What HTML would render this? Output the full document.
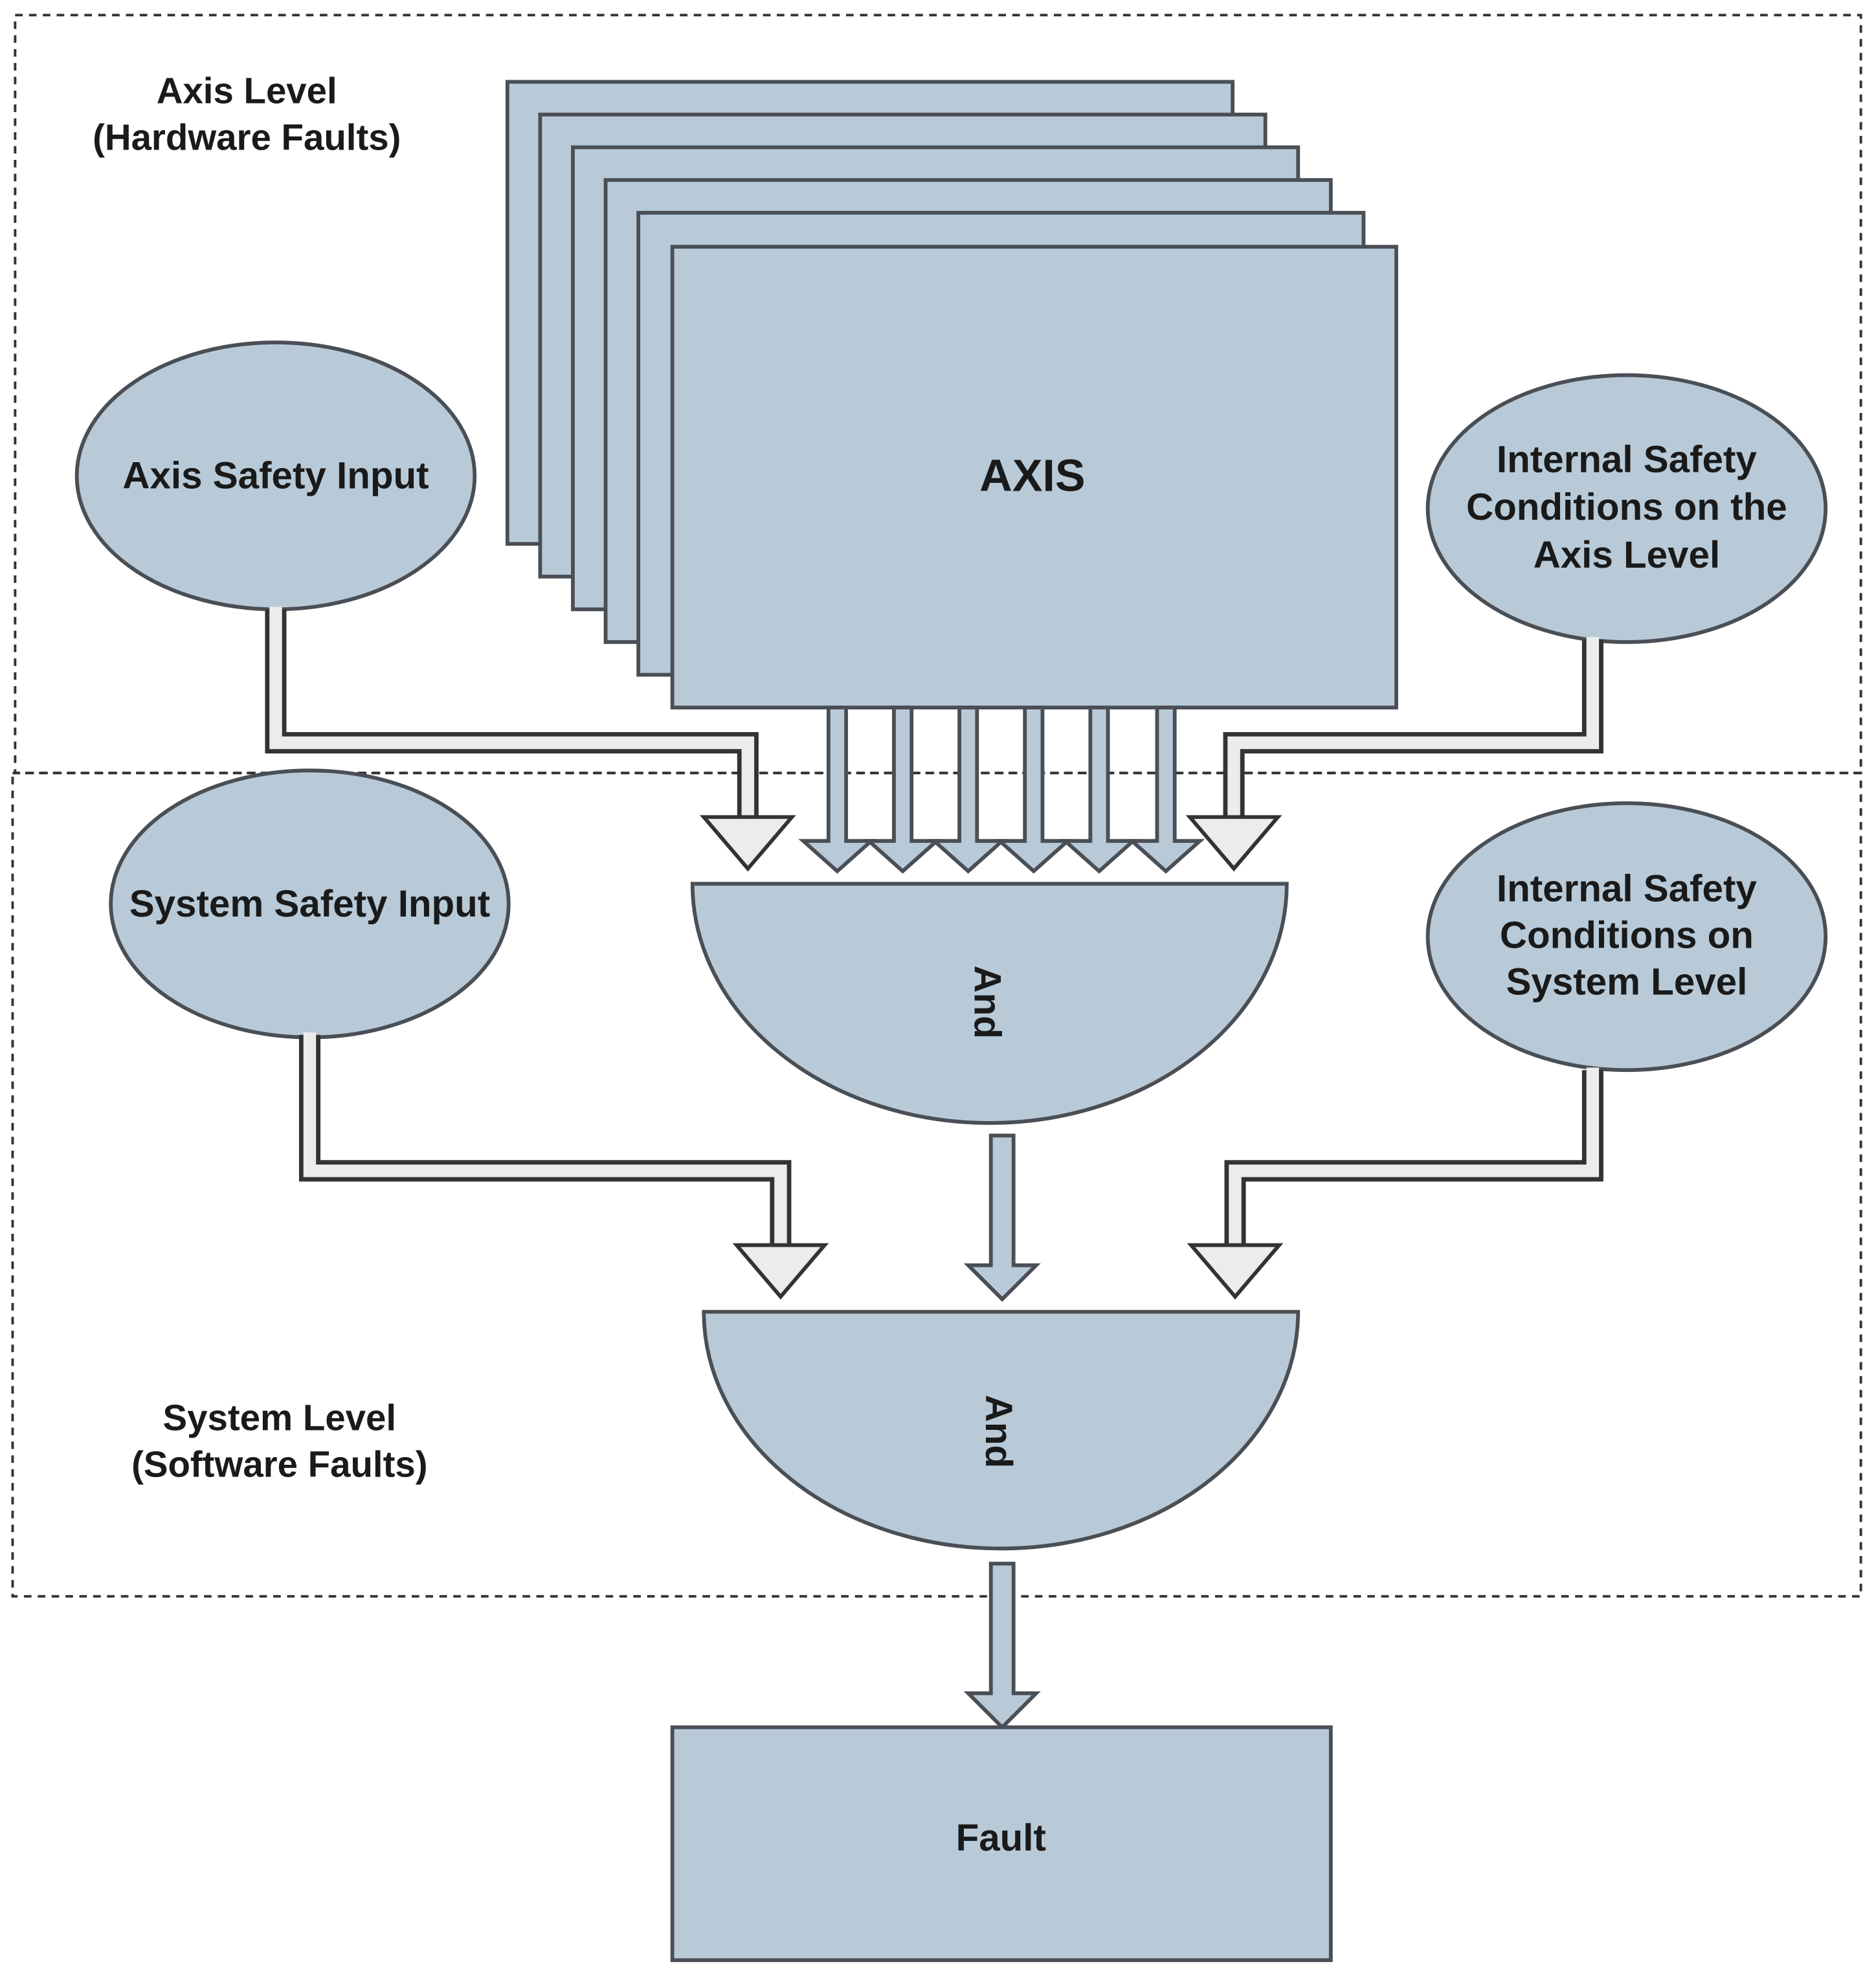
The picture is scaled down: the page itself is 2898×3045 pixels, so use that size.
<!DOCTYPE html>
<html><head><meta charset="utf-8"><style>
html,body{margin:0;padding:0;background:#fff;}
svg{display:block;}
text{font-family:"Liberation Sans Narrow","Liberation Sans",sans-serif;font-weight:bold;fill:#1a1a1a;text-anchor:middle;}
</style></head><body>
<svg width="2898" height="3045" viewBox="0 0 1490 1565.6" xmlns="http://www.w3.org/2000/svg">
<rect x="0" y="0" width="1490" height="1566" fill="#fff"/>
<!-- dashed boxes -->
<g fill="none" stroke="#333" stroke-width="2" stroke-dasharray="6,5">
<rect x="12" y="12" width="1466" height="602"/>
<path d="M10 614 H1478 V1268 H10 Z"/>
</g>
<text x="196" y="82" font-size="29">Axis Level</text>
<text x="196" y="119" font-size="29">(Hardware Faults)</text>
<text x="222" y="1136" font-size="29">System Level</text>
<text x="222" y="1173" font-size="29">(Software Faults)</text>
<!-- stacked axis rects -->
<g fill="#b8cad8" stroke="#4a4f55" stroke-width="3">
<rect x="403" y="65" width="576" height="367"/>
<rect x="429" y="91" width="576" height="367"/>
<rect x="455" y="117" width="576" height="367"/>
<rect x="481" y="143" width="576" height="367"/>
<rect x="507" y="169" width="576" height="367"/>
<rect x="534" y="196" width="575" height="366"/>
</g>
<text x="820" y="390" font-size="36">AXIS</text>
<!-- ellipses -->
<g fill="#b8cad8" stroke="#4a4f55" stroke-width="3">
<ellipse cx="219" cy="378" rx="158" ry="106"/>
<ellipse cx="1292" cy="404" rx="158" ry="106"/>
<ellipse cx="246" cy="718" rx="158" ry="106"/>
<ellipse cx="1292" cy="744" rx="158" ry="106"/>
</g>
<text x="219" y="388" font-size="30">Axis Safety Input</text>
<text x="1292" y="375" font-size="30">Internal Safety</text>
<text x="1292" y="413" font-size="30">Conditions on the</text>
<text x="1292" y="451" font-size="30">Axis Level</text>
<text x="246" y="728" font-size="30">System Safety Input</text>
<text x="1292" y="716" font-size="30">Internal Safety</text>
<text x="1292" y="753" font-size="30">Conditions on</text>
<text x="1292" y="790" font-size="30">System Level</text>
<!-- hollow connectors -->
<g fill="none" stroke-linejoin="miter">
<g stroke="#333" stroke-width="17">
<polyline points="219,484 219,590 594,590 594,652"/>
<polyline points="1265,508 1265,590 980,590 980,652"/>
<polyline points="246,822 246,930 620,930 620,992"/>
<polyline points="1265,850 1265,930 981,930 981,992"/>
</g>
<g stroke="#ececec" stroke-width="10">
<polyline points="219,482 219,590 594,590 594,656"/>
<polyline points="1265,506 1265,590 980,590 980,656"/>
<polyline points="246,820 246,930 620,930 620,996"/>
<polyline points="1265,848 1265,930 981,930 981,996"/>
</g>
</g>
<g fill="#ececec" stroke="#333" stroke-width="3" stroke-linejoin="miter">
<polygon points="559,649 629,649 594,690"/>
<polygon points="945,649 1015,649 980,690"/>
<polygon points="585,989 655,989 620,1030"/>
<polygon points="946,989 1016,989 981,1030"/>
</g>
<!-- blue arrows from AXIS -->
<g fill="#b8cad8" stroke="#4a4f55" stroke-width="3" stroke-linejoin="miter">
<path d="M658 562 V668 H638 L665 692 L692 668 H672 V562 Z"/>
<path d="M710 562 V668 H690 L717 692 L744 668 H724 V562 Z"/>
<path d="M762 562 V668 H742 L769 692 L796 668 H776 V562 Z"/>
<path d="M814 562 V668 H794 L821 692 L848 668 H828 V562 Z"/>
<path d="M866 562 V668 H846 L873 692 L900 668 H880 V562 Z"/>
<path d="M919 562 V668 H899 L926 692 L953 668 H933 V562 Z"/>
<path d="M787 902 V1005 H769 L796 1032 L823 1005 H805 V902 Z"/>
<path d="M787 1242 V1345 H769 L796 1372 L823 1345 H805 V1242 Z"/>
</g>
<!-- And gates -->
<g fill="#b8cad8" stroke="#4a4f55" stroke-width="3">
<path d="M550 702 H1022 A236 190 0 0 1 550 702 Z"/>
<path d="M559 1042 H1031 A236 188 0 0 1 559 1042 Z"/>
<rect x="534" y="1372" width="523" height="185"/>
</g>
<text x="0" y="0" font-size="30" transform="translate(774,796) rotate(90)">And</text>
<text x="0" y="0" font-size="30" transform="translate(783,1137) rotate(90)">And</text>
<text x="795" y="1470" font-size="30">Fault</text>
</svg>
</body></html>
